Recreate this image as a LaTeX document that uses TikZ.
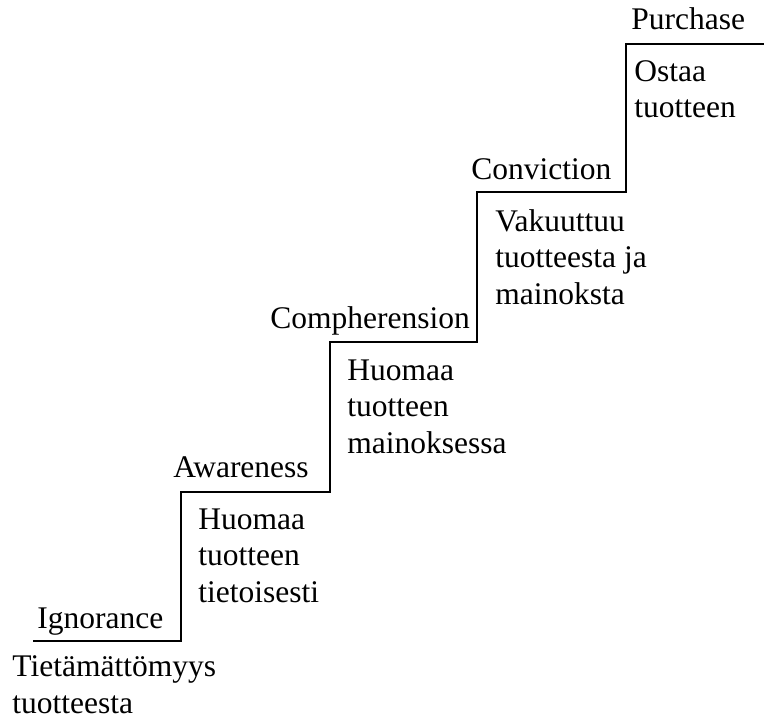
\documentclass[tikz,border=0pt]{standalone}
\usepackage{fontspec}
\setmainfont{Liberation Serif}
\begin{document}
\begin{tikzpicture}[x=0.5pt,y=-0.5pt,
  stage/.style={anchor=base west,inner sep=0pt,font=\fontsize{15.75}{18.25}\selectfont},
  phase/.style={anchor=base west,inner sep=0pt,align=left,font=\fontsize{15.75}{18.25}\selectfont}]
\useasboundingbox (0,0) rectangle (764,717);
% step corners
\coordinate (s0) at (33,641);
\coordinate (s1) at (181,641);
\coordinate (s2) at (181,492);
\coordinate (s3) at (330,492);
\coordinate (s4) at (330,342);
\coordinate (s5) at (477,342);
\coordinate (s6) at (477,192);
\coordinate (s7) at (626,192);
\coordinate (s8) at (626,44);
\coordinate (s9) at (764,44);
\draw[line width=0.8pt] (s0) -- (s1) -- (s2) -- (s3) -- (s4) -- (s5) -- (s6) -- (s7) -- (s8) -- (s9);
% stage names
\node[stage] (ign) at (37,628) {Ignorance};
\node[stage] (awa) at (173,477) {Awareness};
\node[stage] (com) at (270,328) {Compherension};
\node[stage] (con) at (471,179) {Conviction};
\node[stage] (pur) at (631,30) {Purchase};
% descriptions (base = last line)
\node[phase] (d0) at (12,713) {Tietämättömyys\\tuotteesta};
\node[phase] (d1) at (198,602) {Huomaa\\tuotteen\\tietoisesti};
\node[phase] (d2) at (347,453) {Huomaa\\tuotteen\\mainoksessa};
\node[phase] (d3) at (495,304) {Vakuuttuu\\tuotteesta ja\\mainoksta};
\node[phase] (d4) at (634,118) {Ostaa\\tuotteen};
\end{tikzpicture}
\end{document}
